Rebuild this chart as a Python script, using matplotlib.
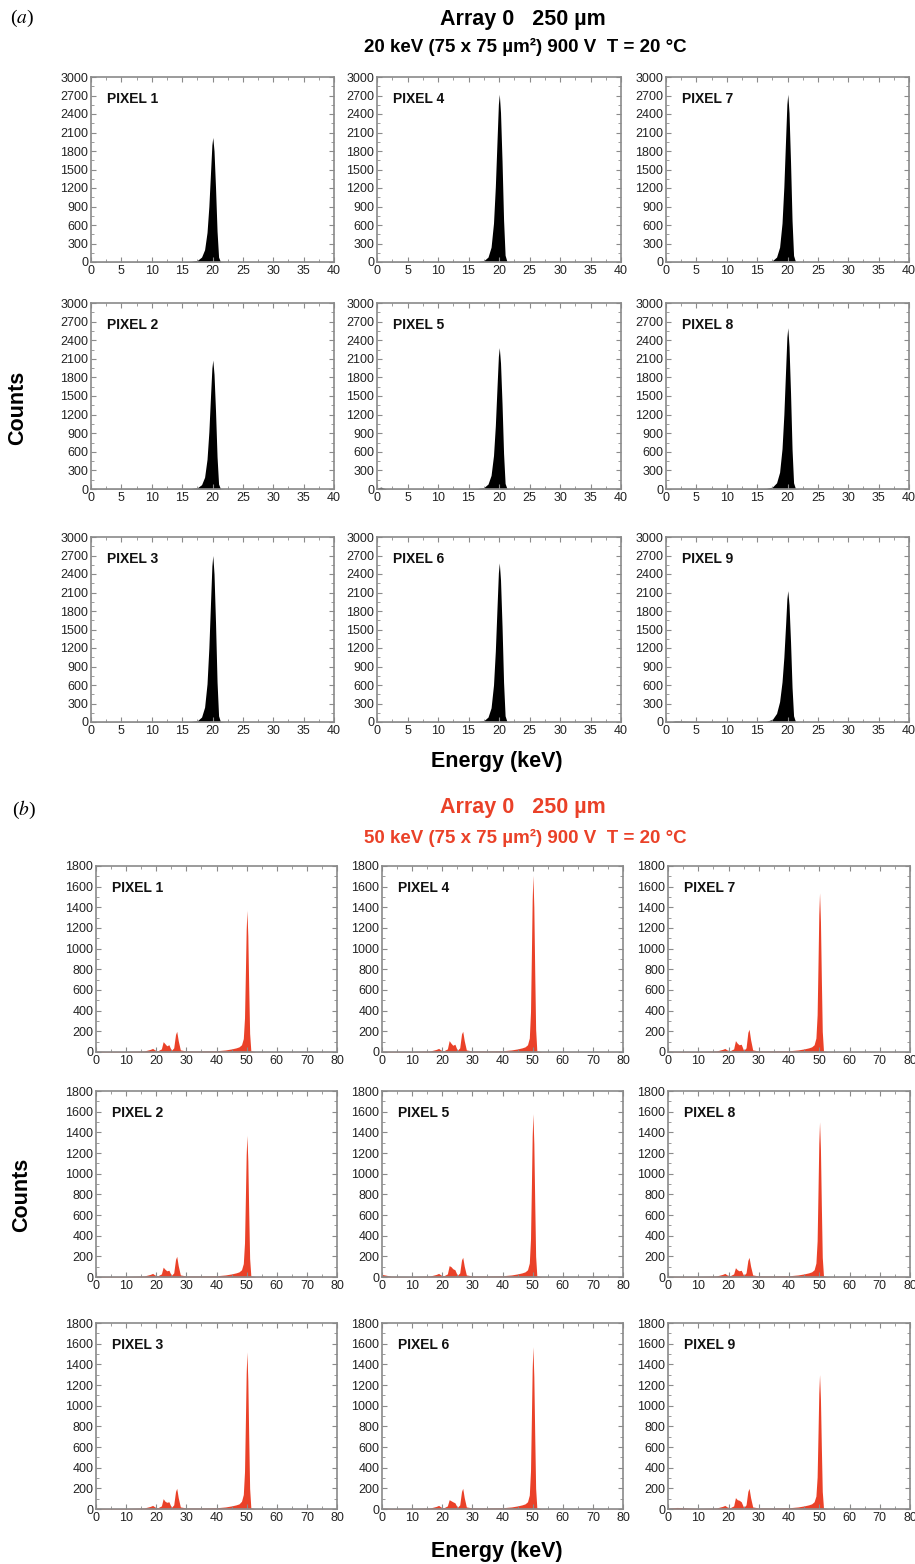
import matplotlib.pyplot as plt
from matplotlib.ticker import MultipleLocator

plt.rcParams["font.family"] = ["Liberation Sans", "DejaVu Sans"]
plt.rcParams["mathtext.fontset"] = "stix"

W, H = 915, 1564
RED = "#ea4128"
TXT = "#222222"
FRAME = "#8a8a8a"

# panel (a): 20 keV beam, energy grid and counts per pixel
energy_a = [0, 0.4, 0.7, 1.0, 1.5, 2.0, 3.0, 4.0, 10.0, 15.0, 16.5, 17.5, 18.2, 18.7,
            19.1, 19.4, 19.7, 19.9, 20.05, 20.25, 20.5, 20.75, 21.0, 21.3, 22.0, 40.0]
counts_a = {
    1: [4, 4, 4, 4, 4, 4, 4, 4, 4, 6, 10, 25, 80, 200, 480, 900, 1500, 1900, 2020, 1800, 1200, 500, 80, 6, 2, 1],
    2: [4, 4, 4, 4, 4, 4, 4, 4, 4, 5, 8, 20, 70, 190, 480, 920, 1550, 1950, 2080, 1850, 1250, 520, 80, 6, 2, 1],
    3: [4, 4, 4, 4, 4, 4, 4, 4, 4, 5, 8, 20, 80, 240, 620, 1200, 2000, 2530, 2700, 2400, 1600, 650, 100, 8, 2, 1],
    4: [4, 4, 4, 4, 4, 4, 4, 4, 4, 5, 8, 20, 80, 240, 630, 1220, 2030, 2560, 2720, 2420, 1630, 680, 110, 8, 2, 1],
    5: [10, 25, 30, 15, 5, 4, 4, 4, 4, 5, 8, 22, 80, 220, 540, 1020, 1700, 2140, 2280, 2030, 1370, 570, 90, 7, 2, 1],
    6: [4, 4, 4, 4, 4, 4, 4, 4, 4, 5, 8, 20, 80, 230, 600, 1150, 1920, 2420, 2580, 2300, 1550, 640, 100, 8, 2, 1],
    7: [4, 4, 4, 4, 4, 4, 4, 4, 4, 5, 8, 20, 80, 240, 630, 1220, 2030, 2560, 2720, 2420, 1620, 670, 105, 8, 2, 1],
    8: [4, 4, 4, 4, 4, 4, 4, 4, 4, 6, 10, 30, 100, 270, 650, 1200, 1950, 2450, 2600, 2300, 1550, 640, 100, 8, 2, 1],
    9: [4, 4, 4, 8, 15, 15, 12, 10, 5, 6, 12, 40, 140, 330, 650, 1050, 1600, 2000, 2130, 1900, 1300, 560, 100, 8, 2, 1],
}

# panel (b): 50 keV beam
energy_b = [0, 3, 10, 16, 18, 18.8, 19.5, 20.5, 21.7, 22.3, 22.9, 23.5, 24.2, 25.0, 25.8, 26.4,
            26.8, 27.3, 28.0, 30, 35, 40, 43, 45, 46.5, 47.5, 48.3, 48.9, 49.3, 49.6, 49.85,
            50.1, 50.4, 50.7, 51.0, 51.4, 53, 60, 80]
counts_b = {
    1: [8, 6, 6, 10, 25, 35, 20, 12, 30, 100, 80, 60, 70, 15, 40, 170, 200, 110, 20, 10, 10, 12, 20, 30, 40, 50, 70, 130, 330, 780, 1180, 1370, 1120, 620, 180, 10, 3, 2, 2],
    2: [8, 6, 6, 10, 25, 35, 20, 12, 30, 95, 75, 60, 65, 15, 40, 170, 200, 110, 20, 10, 10, 12, 20, 30, 40, 50, 70, 130, 330, 780, 1180, 1370, 1120, 620, 180, 10, 3, 2, 2],
    3: [8, 6, 6, 10, 25, 35, 20, 12, 30, 100, 75, 65, 70, 15, 40, 170, 200, 110, 20, 10, 10, 12, 20, 30, 40, 50, 75, 140, 360, 860, 1310, 1520, 1240, 690, 200, 10, 3, 2, 2],
    4: [8, 6, 6, 10, 25, 35, 20, 12, 30, 110, 85, 65, 75, 15, 40, 175, 200, 110, 20, 10, 10, 12, 20, 30, 40, 50, 70, 135, 390, 960, 1470, 1710, 1400, 770, 220, 10, 3, 2, 2],
    5: [25, 8, 6, 10, 25, 35, 20, 12, 30, 110, 100, 80, 70, 15, 40, 165, 190, 105, 20, 10, 10, 12, 20, 30, 40, 50, 70, 135, 370, 890, 1360, 1580, 1290, 720, 200, 10, 3, 2, 2],
    6: [8, 6, 6, 10, 25, 35, 20, 12, 30, 90, 80, 70, 60, 15, 40, 170, 200, 110, 20, 10, 10, 12, 20, 30, 40, 50, 70, 135, 370, 890, 1350, 1570, 1280, 710, 200, 10, 3, 2, 2],
    7: [8, 6, 6, 10, 25, 35, 20, 12, 30, 110, 85, 70, 75, 15, 40, 190, 220, 120, 20, 10, 10, 12, 20, 30, 40, 50, 70, 135, 360, 870, 1330, 1540, 1260, 700, 200, 10, 3, 2, 2],
    8: [8, 6, 6, 10, 25, 35, 20, 12, 30, 90, 70, 60, 65, 15, 40, 160, 190, 105, 20, 10, 10, 12, 20, 30, 40, 50, 70, 135, 350, 850, 1290, 1500, 1230, 680, 190, 10, 3, 2, 2],
    9: [8, 15, 6, 10, 25, 35, 20, 12, 30, 110, 90, 85, 70, 15, 40, 170, 200, 110, 20, 10, 10, 12, 20, 30, 40, 50, 70, 125, 310, 740, 1120, 1300, 1060, 590, 170, 10, 3, 2, 2],
}

fig = plt.figure(figsize=(W / 100, H / 100), dpi=100)


def px_axes(left, top, right, bottom):
    return fig.add_axes([left / W, 1 - bottom / H, (right - left) / W, (bottom - top) / H])


def style(ax, xmax, xmaj, ymax, ymaj):
    ax.set_xlim(0, xmax)
    ax.set_ylim(0, ymax)
    ax.xaxis.set_major_locator(MultipleLocator(xmaj))
    ax.xaxis.set_minor_locator(MultipleLocator(xmaj / 2))
    ax.yaxis.set_major_locator(MultipleLocator(ymaj))
    ax.yaxis.set_minor_locator(MultipleLocator(ymaj / 2))
    ax.tick_params(which="both", direction="in", top=True, right=True,
                   color=FRAME, labelcolor=TXT, labelsize=9, pad=2)
    ax.tick_params(which="major", length=3.5, width=0.8)
    ax.tick_params(which="minor", length=2, width=0.6)
    for s in ax.spines.values():
        s.set_color(FRAME)
        s.set_linewidth(1.2)


def draw_panel(energy, counts, color, cols, rows, xmax, xmaj, ymax, ymaj):
    for ci, (l, r) in enumerate(cols):
        for ri, (t, b) in enumerate(rows):
            pix = ci * 3 + ri + 1
            ax = px_axes(l, t, r, b)
            ax.fill_between(energy, counts[pix], 0, color=color, lw=0)
            style(ax, xmax, xmaj, ymax, ymaj)
            ax.text(0.065, 0.88, "PIXEL %d" % pix, transform=ax.transAxes,
                    fontsize=10, fontweight="bold", color="#111111", va="center")


# panel (a)
cols_a = [(91, 334), (377, 621), (666, 909)]
rows_a = [(77, 262), (303, 489), (537, 722)]
draw_panel(energy_a, counts_a, "black", cols_a, rows_a, 40, 5, 3000, 300)

# panel (b)
cols_b = [(96, 337), (382, 623), (668, 910)]
rows_b = [(866, 1052), (1091, 1277), (1323, 1509)]
draw_panel(energy_b, counts_b, RED, cols_b, rows_b, 80, 10, 1800, 200)

# titles and labels
fig.text(10 / W, 1 - 18 / H, r"($\mathit{a}$)", fontsize=14, family="Liberation Serif", va="center")
fig.text(523 / W, 1 - 20 / H, "Array 0   250 µm", fontsize=15.5, fontweight="bold", ha="center", va="center")
fig.text(525 / W, 1 - 47 / H, "20 keV (75 x 75 µm²) 900 V  T = 20 °C", fontsize=13.5,
         fontweight="bold", ha="center", va="center")
fig.text(18 / W, 1 - 408 / H, "Counts", fontsize=15.5, fontweight="bold", rotation=90,
         ha="center", va="center")
fig.text(497 / W, 1 - 762 / H, "Energy (keV)", fontsize=15.5, fontweight="bold", ha="center", va="center")

fig.text(12 / W, 1 - 810 / H, r"($\mathit{b}$)", fontsize=14, family="Liberation Serif", va="center")
fig.text(523 / W, 1 - 808 / H, "Array 0   250 µm", fontsize=15.5, fontweight="bold", color=RED,
         ha="center", va="center")
fig.text(525 / W, 1 - 838 / H, "50 keV (75 x 75 µm²) 900 V  T = 20 °C", fontsize=13.5,
         fontweight="bold", color=RED, ha="center", va="center")
fig.text(22 / W, 1 - 1195 / H, "Counts", fontsize=15.5, fontweight="bold", rotation=90,
         ha="center", va="center")
fig.text(497 / W, 1 - 1551 / H, "Energy (keV)", fontsize=15.5, fontweight="bold", ha="center", va="center")

fig.savefig("out.png", dpi=100)
